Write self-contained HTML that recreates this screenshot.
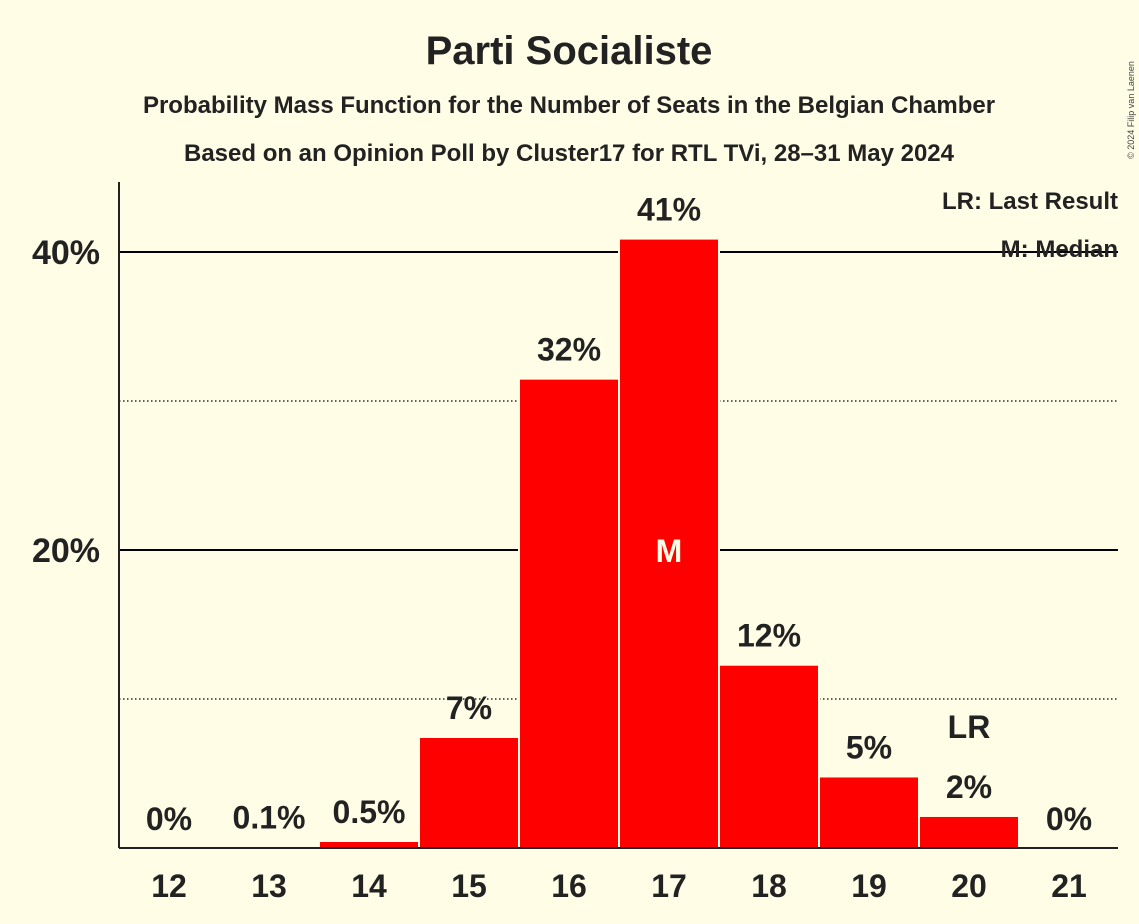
<!DOCTYPE html>
<html><head><meta charset="utf-8"><style>
body{margin:0;background:#fffde6;}
svg{display:block;font-family:"Liberation Sans",sans-serif;}
</style></head><body>
<svg id="c" width="1139" height="924" viewBox="0 0 1139 924">
<rect width="1139" height="924" fill="#fffde6"/>
<text x="569" y="64" text-anchor="middle" font-size="40" font-weight="bold" fill="#222">Parti Socialiste</text>
<text x="569" y="113" text-anchor="middle" font-size="24" font-weight="bold" fill="#222">Probability Mass Function for the Number of Seats in the Belgian Chamber</text>
<text x="569" y="161" text-anchor="middle" font-size="24" font-weight="bold" fill="#222">Based on an Opinion Poll by Cluster17 for RTL TVi, 28–31 May 2024</text>
<text transform="translate(1134,110) rotate(-90)" text-anchor="middle" font-size="9" fill="#444">© 2024 Filip van Laenen</text>
<g id="grid"></g>
<g id="bars"></g>
<line x1="119" y1="182" x2="119" y2="848" stroke="#222" stroke-width="2"/>
<line x1="119" y1="848" x2="1118" y2="848" stroke="#222" stroke-width="2"/>
<text x="1118" y="209" text-anchor="end" font-size="24" font-weight="bold" fill="#222">LR: Last Result</text>
<text x="1118" y="257" text-anchor="end" font-size="24" font-weight="bold" fill="#222">M: Median</text>
</svg>
<script>
const seats=[12,13,14,15,16,17,18,19,20,21];
const probs=[0,0.1,0.47,7.45,31.5,40.9,12.3,4.8,2.15,0];
const valueLabels=["0%","0.1%","0.5%","7%","32%","41%","12%","5%","2%","0%"];
const yTicks=[10,20,30,40];
const yTickLabels=["","20%","","40%"];
const medianSeat=17, lastResultSeat=20;
const NS="http://www.w3.org/2000/svg";
const y=v=>848-v*14.9;
const x=s=>169+(s-12)*100;
function mk(t,a){const e=document.createElementNS(NS,t);for(const k in a)e.setAttribute(k,a[k]);return e;}
const grid=document.getElementById('grid'),bars=document.getElementById('bars');
yTicks.forEach((t,i)=>{
 const major=t%20===0;
 const l=mk('line',{x1:119,x2:1118,y1:y(t),y2:y(t),stroke:'#000','stroke-width':major?2:1.2});
 if(!major)l.setAttribute('stroke-dasharray','1.5,2.5');
 
 
 grid.appendChild(l);
 if(yTickLabels[i]){
  const tx=mk('text',{x:100,y:y(t)+12,'text-anchor':'end','font-size':34,'font-weight':'bold',fill:'#222'});
  tx.textContent=yTickLabels[i];
  
  
  grid.appendChild(tx);
 }
});
seats.forEach((s,i)=>{
 const v=probs[i];
 if(v>0){
  const r=mk('rect',{x:x(s)-50,y:y(v),width:100,height:848-y(v),fill:'#ff0000',stroke:'#fffde6','stroke-width':2});
  
  
  bars.appendChild(r);
 }
 const lab=mk('text',{x:x(s),y:y(v)-18,'text-anchor':'middle','font-size':32,'font-weight':'bold',fill:'#222'});
 lab.textContent=valueLabels[i];
 
 
 bars.appendChild(lab);
 const xl=mk('text',{x:x(s),y:897,'text-anchor':'middle','font-size':32,'font-weight':'bold',fill:'#222'});
 xl.textContent=s;
 
 
 bars.appendChild(xl);
 if(s===medianSeat){
  const m=mk('text',{x:x(s),y:y(20)+12,'text-anchor':'middle','font-size':32,'font-weight':'bold',fill:'#fffde6'});
  m.textContent='M';
  
  
  bars.appendChild(m);
 }
 if(s===lastResultSeat){
  const m=mk('text',{x:x(s),y:y(v)-78,'text-anchor':'middle','font-size':32,'font-weight':'bold',fill:'#222'});
  m.textContent='LR';
  
  
  bars.appendChild(m);
 }
});
</script>
</body></html>
